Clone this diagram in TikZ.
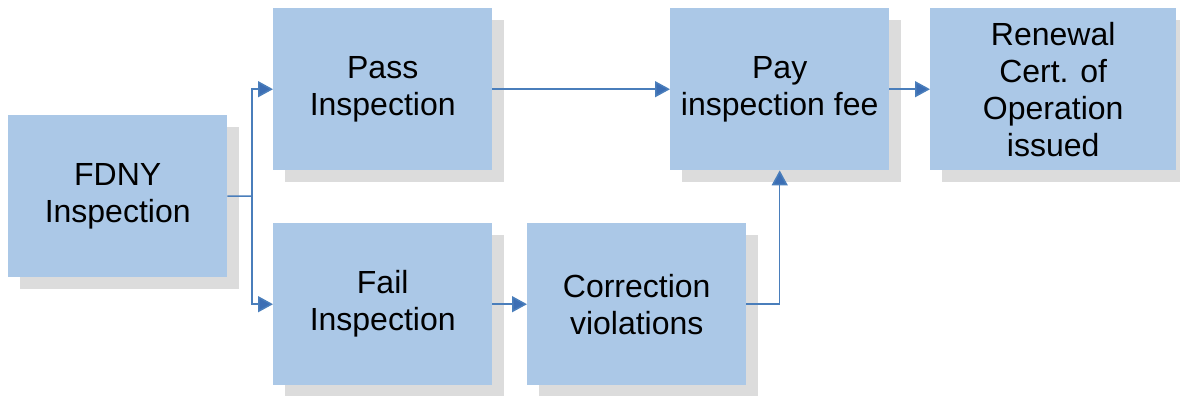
\documentclass[tikz,border=0pt]{standalone}
\usepackage{fontspec}
\setmainfont{Liberation Sans}
\usetikzlibrary{arrows.meta,shadows}
\definecolor{boxfill}{RGB}{171,200,231}
\definecolor{shadowc}{RGB}{220,220,220}
\definecolor{linec}{RGB}{74,126,187}
\definecolor{tipc}{RGB}{60,110,180}
\begin{document}
\begin{tikzpicture}[x=1pt,y=-1pt,
  box/.style={rectangle, fill=boxfill, draw=none, anchor=north west, inner sep=0pt,
    minimum height=162pt, align=center,
    font=\fontsize{32}{37}\selectfont,
    drop shadow={shadow xshift=12pt, shadow yshift=-12pt, fill=shadowc, opacity=1}},
  conn/.style={draw=linec, line width=1.5pt, -{Triangle[length=15pt,width=16pt,fill=tipc]}}]
\useasboundingbox (0,0) rectangle (1180,396);
\node[box, minimum width=219pt] (fdny) at (8,115) {FDNY\\Inspection};
\node[box, minimum width=219pt] (pass) at (273,8) {Pass\\Inspection};
\node[box, minimum width=219pt] (fail) at (273,223) {Fail\\Inspection};
\node[box, minimum width=219pt] (corr) at (527,223) {Correction\\violations};
\node[box, minimum width=219pt] (pay) at (670,8) {Pay\\inspection fee};
\node[box, minimum width=246pt] (ren) at (930,8) {Renewal\\Cert. of\\Operation\\issued};
\coordinate (split) at (252,196);
\draw[draw=linec, line width=1.5pt] (fdny.east) -- (split);
\draw[conn] (split) |- (pass.west);
\draw[conn] (split) |- (fail.west);
\draw[conn] (pass.east) -- (pay.west);
\draw[conn] (pay.east) -- (ren.west);
\draw[conn] (fail.east) -- (corr.west);
\draw[conn] (corr.east) -| (pay.south);
\end{tikzpicture}
\end{document}
